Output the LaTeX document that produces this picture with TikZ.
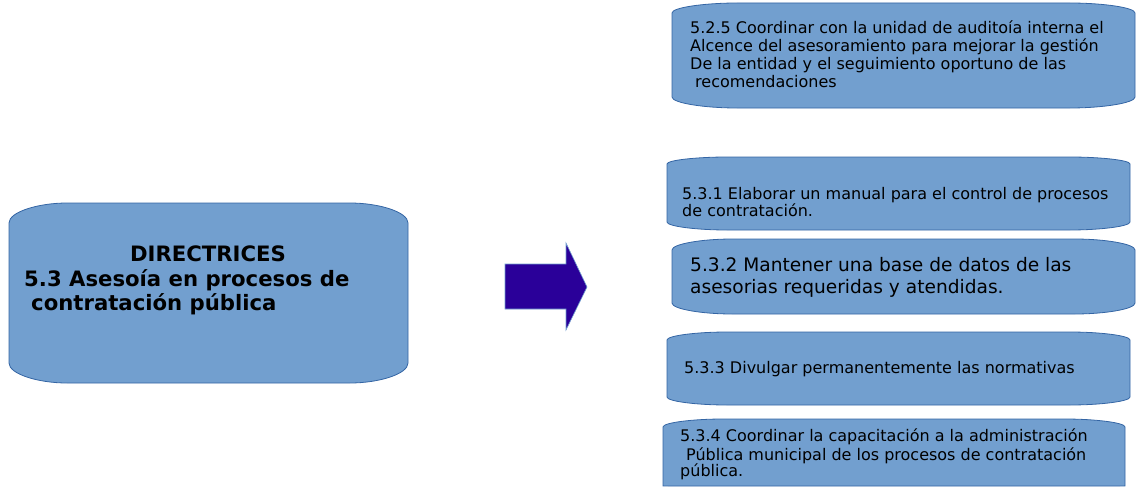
\documentclass[tikz,border=0pt]{standalone}
\usepackage{fontspec}
\setmainfont{DejaVu Sans}
\definecolor{boxfill}{HTML}{729FCF}
\definecolor{boxline}{HTML}{3465A4}
\definecolor{arrowfill}{HTML}{2A0099}
\newcommand\rbox[7]{% L T R B dtop rx dbottom
  \path[boxsty] (#1,#2+#5) .. controls (#1,#2+0.45*#5) and (#1+0.5*#6,#2) .. (#1+#6,#2)
    -- (#3-#6,#2) .. controls (#3-0.5*#6,#2) and (#3,#2+0.45*#5) .. (#3,#2+#5)
    -- (#3,#4-#7) .. controls (#3,#4-0.45*#7) and (#3-0.5*#6,#4) .. (#3-#6,#4)
    -- (#1+#6,#4) .. controls (#1+0.5*#6,#4) and (#1,#4-0.45*#7) .. (#1,#4-#7) -- cycle;}
\begin{document}
\begin{tikzpicture}[x=1pt,y=-1pt,
  boxsty/.style={fill=boxfill,draw=boxline,line width=0.8pt},
  small/.style={anchor=base west,inner sep=0pt,font=\fontsize{16}{18}\selectfont},
  mid/.style={anchor=base west,inner sep=0pt,font=\fontsize{18.6}{21}\selectfont},
  big/.style={inner sep=0pt,font=\fontsize{21.2}{24}\selectfont\bfseries}]
\useasboundingbox (0,0) rectangle (1137,487);
\clip (0,0) rectangle (1137,487);
% main box
\rbox{9}{203}{408}{383}{20}{58}{20}
\node[big,anchor=base] (d0) at (208,261.7) {DIRECTRICES};
\node[big,anchor=base west] (d1) at (24,286.7) {5.3 Asesoía en procesos de};
\node[big,anchor=base west] (d2) at (31,310.7) {contratación pública};
% arrow
\path[fill=arrowfill,draw=boxfill,line width=0.6pt] (505,264) -- (566,264) -- (566,243) -- (587,287) -- (566,330) -- (566,309) -- (505,309) -- cycle;
% box 5.2.5
\rbox{672}{3}{1135}{108}{10}{65}{11}
\node[small] (a1) at (690,33.3) {5.2.5 Coordinar con la unidad de auditoía interna el};
\node[small] (a2) at (690,51.7) {Alcence del asesoramiento para mejorar la gestión};
\node[small] (a3) at (690,70) {De la entidad y el seguimiento oportuno de las};
\node[small] (a4) at (695,88) {recomendaciones};
% box 5.3.1
\rbox{667}{157}{1130}{230}{7}{60}{8}
\node[small] (b1) at (682,199.3) {5.3.1 Elaborar un manual para el control de procesos};
\node[small] (b2) at (682,216.7) {de contratación.};
% box 5.3.2
\rbox{672}{239}{1135}{314}{11}{60}{11}
\node[mid] (c1) at (690,271.7) {5.3.2 Mantener una base de datos de las};
\node[mid] (c2) at (690,293.3) {asesorias requeridas y atendidas.};
% box 5.3.3
\rbox{667}{332}{1130}{405}{8}{60}{8}
\node[small] (e1) at (684,373.3) {5.3.3 Divulgar permanentemente las normativas};
% box 5.3.4
\rbox{663}{419}{1125}{486}{8}{60}{0.01}
\node[small] (f1) at (680,441.7) {5.3.4 Coordinar la capacitación a la administración};
\node[small] (f2) at (686,460) {Pública municipal de los procesos de contratación};
\node[small] (f3) at (680,476.7) {pública.};
\end{tikzpicture}
\end{document}
